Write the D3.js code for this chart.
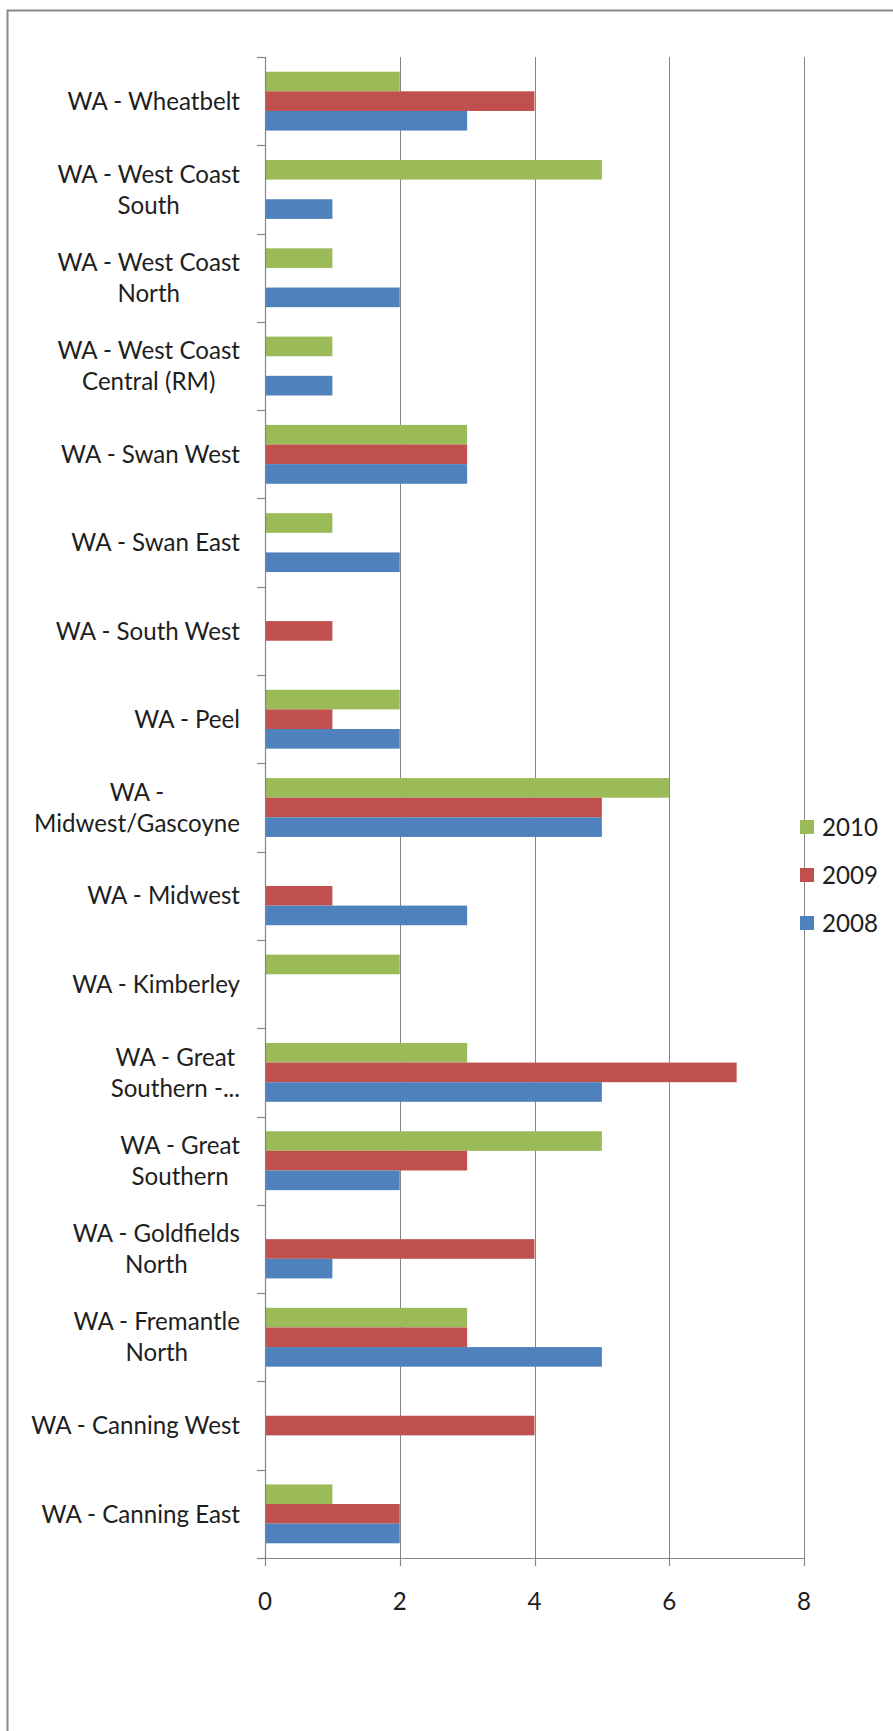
<!DOCTYPE html>
<html>
<head>
<meta charset="utf-8">
<script src="https://cdn.jsdelivr.net/npm/d3@7"></script>
<style>
  html, body { margin: 0; padding: 0; background: #fff; }
  svg { display: block; }
</style>
</head>
<body>
<script>
// ---- data (top to bottom as drawn) ----
const categories = [
  "WA - Wheatbelt",
  "WA - West Coast South",
  "WA - West Coast North",
  "WA - West Coast Central (RM)",
  "WA - Swan West",
  "WA - Swan East",
  "WA - South West",
  "WA - Peel",
  "WA - Midwest/Gascoyne",
  "WA - Midwest",
  "WA - Kimberley",
  "WA - Great Southern -...",
  "WA - Great Southern",
  "WA - Goldfields North",
  "WA - Fremantle North",
  "WA - Canning West",
  "WA - Canning East"
];
const seriesNames = ["2010", "2009", "2008"];
const values2010 = [2, 5, 1, 1, 3, 1, 0, 2, 6, 0, 2, 3, 5, 0, 3, 0, 1];
const values2009 = [4, 0, 0, 0, 3, 0, 1, 1, 5, 1, 0, 7, 3, 4, 3, 4, 2];
const values2008 = [3, 1, 2, 1, 3, 2, 0, 2, 5, 3, 0, 5, 2, 1, 5, 0, 2];
const xTicks = [0, 2, 4, 6, 8];
const colors = { "2010": "#9BBB59", "2009": "#C0504D", "2008": "#4F81BD" };

const seriesValues = { "2010": values2010, "2009": values2009, "2008": values2008 };

// ---- layout ----
const W = 893, H = 1731;
const plot = { left: 265, right: 804, top: 57, bottom: 1558 };
const FONT = "Lato, 'Open Sans', sans-serif";
const gray = "#868686";
const textColor = "#1e1e1e";

const svg = d3.select("body").append("svg")
  .attr("width", W).attr("height", H)
  .attr("viewBox", `0 0 ${W} ${H}`);

svg.append("rect").attr("width", W).attr("height", H).attr("fill", "#fff");

// chart-area frame (right/bottom edges fall outside the picture)
svg.append("rect")
  .attr("x", 7.5).attr("y", 10.5)
  .attr("width", 900).attr("height", 1740)
  .attr("fill", "none").attr("stroke", "#8a8a8a").attr("stroke-width", 2);

// fit font size so text widths match reference proportions
const probe = svg.append("text").attr("font-family", FONT).attr("font-size", 100)
  .text("Midwest/Gascoyne");
const probeW = probe.node().getComputedTextLength();
probe.remove();
const fs = 100 * 206 / probeW;

const x = d3.scaleLinear().domain([0, 8]).range([plot.left, plot.right]);
const y = d3.scaleBand().domain(categories).range([plot.top, plot.bottom]).paddingInner(0).paddingOuter(0);
const sub = d3.scaleBand().domain(seriesNames).range([0, y.bandwidth()]).paddingInner(0).paddingOuter(0.75);

// gridlines
svg.append("g").selectAll("line")
  .data(xTicks.filter(d => d > 0))
  .join("line")
  .attr("x1", d => Math.round(x(d)) + 0.5).attr("x2", d => Math.round(x(d)) + 0.5)
  .attr("y1", plot.top).attr("y2", plot.bottom)
  .attr("stroke", gray).attr("stroke-width", 1);

// bars
const rows = [];
categories.forEach((c, i) => {
  seriesNames.forEach(s => rows.push({ cat: c, series: s, value: seriesValues[s][i] }));
});
svg.append("g").selectAll("rect")
  .data(rows.filter(d => d.value > 0))
  .join("rect")
  .attr("x", x(0))
  .attr("y", d => y(d.cat) + sub(d.series))
  .attr("width", d => x(d.value) - x(0))
  .attr("height", sub.bandwidth())
  .attr("fill", d => colors[d.series]);

// category axis (left)
const yAxisG = svg.append("g");
yAxisG.append("line")
  .attr("x1", plot.left + 0.5).attr("x2", plot.left + 0.5)
  .attr("y1", plot.top).attr("y2", plot.bottom)
  .attr("stroke", gray).attr("stroke-width", 1.2);
const boundaries = categories.map(c => y(c)).concat([plot.bottom]);
yAxisG.selectAll("line.tick")
  .data(boundaries)
  .join("line").attr("class", "tick")
  .attr("x1", plot.left - 8).attr("x2", plot.left)
  .attr("y1", d => Math.round(d) + 0.5).attr("y2", d => Math.round(d) + 0.5)
  .attr("stroke", gray).attr("stroke-width", 1.2);

// value axis (bottom)
const xAxisG = svg.append("g");
xAxisG.append("line")
  .attr("x1", plot.left).attr("x2", plot.right)
  .attr("y1", plot.bottom + 0.5).attr("y2", plot.bottom + 0.5)
  .attr("stroke", gray).attr("stroke-width", 1.2);
xAxisG.selectAll("line.tick")
  .data(xTicks)
  .join("line").attr("class", "tick")
  .attr("x1", d => Math.round(x(d)) + 0.5).attr("x2", d => Math.round(x(d)) + 0.5)
  .attr("y1", plot.bottom).attr("y2", plot.bottom + 8)
  .attr("stroke", gray).attr("stroke-width", 1.2);
xAxisG.selectAll("text")
  .data(xTicks)
  .join("text")
  .attr("x", d => x(d))
  .attr("y", 1601)
  .attr("dy", "0.36em")
  .attr("text-anchor", "middle")
  .attr("font-family", FONT).attr("font-size", fs)
  .attr("fill", textColor)
  .text(d => d);

// category labels with wrapping, lines centered within a block whose right edge is fixed
const labelRight = 240, lineH = 31;
const measurer = svg.append("text").attr("font-family", FONT).attr("font-size", fs);
function width(t) { measurer.text(t); return measurer.node().getComputedTextLength(); }
// wrap width: the widest label that stays on one line in the reference
const maxLabelW = Math.max(width("WA - Canning West"), width("WA - Canning East")) + 2;
function wrap(t) {
  const words = t.split(" ");
  const lines = [];
  let cur = "";
  words.forEach(w => {
    const trial = cur ? cur + " " + w : w;
    if (cur && width(trial) > maxLabelW) { lines.push(cur); cur = w; }
    else cur = trial;
  });
  if (cur) lines.push(cur);
  return lines;
}
const labelG = svg.append("g");
categories.forEach(c => {
  const lines = wrap(c);
  const blockW = d3.max(lines, width);
  const cx = labelRight - blockW / 2;
  const cy = y(c) + y.bandwidth() / 2;
  lines.forEach((ln, i) => {
    labelG.append("text")
      .attr("x", cx)
      .attr("y", cy + (i - (lines.length - 1) / 2) * lineH)
      .attr("dy", "0.36em")
      .attr("text-anchor", "middle")
      .attr("font-family", FONT).attr("font-size", fs)
      .attr("fill", textColor)
      .text(ln);
  });
});
measurer.remove();

// legend
const legendY = d3.scalePoint().domain(seriesNames).range([827, 923]);
const lg = svg.append("g");
lg.selectAll("rect")
  .data(seriesNames)
  .join("rect")
  .attr("x", 800).attr("y", d => legendY(d) - 7)
  .attr("width", 14).attr("height", 14)
  .attr("fill", d => colors[d]);
lg.selectAll("text")
  .data(seriesNames)
  .join("text")
  .attr("x", 822).attr("y", d => legendY(d))
  .attr("dy", "0.36em")
  .attr("font-family", FONT).attr("font-size", fs)
  .attr("fill", textColor)
  .text(d => d);
</script>
</body>
</html>
